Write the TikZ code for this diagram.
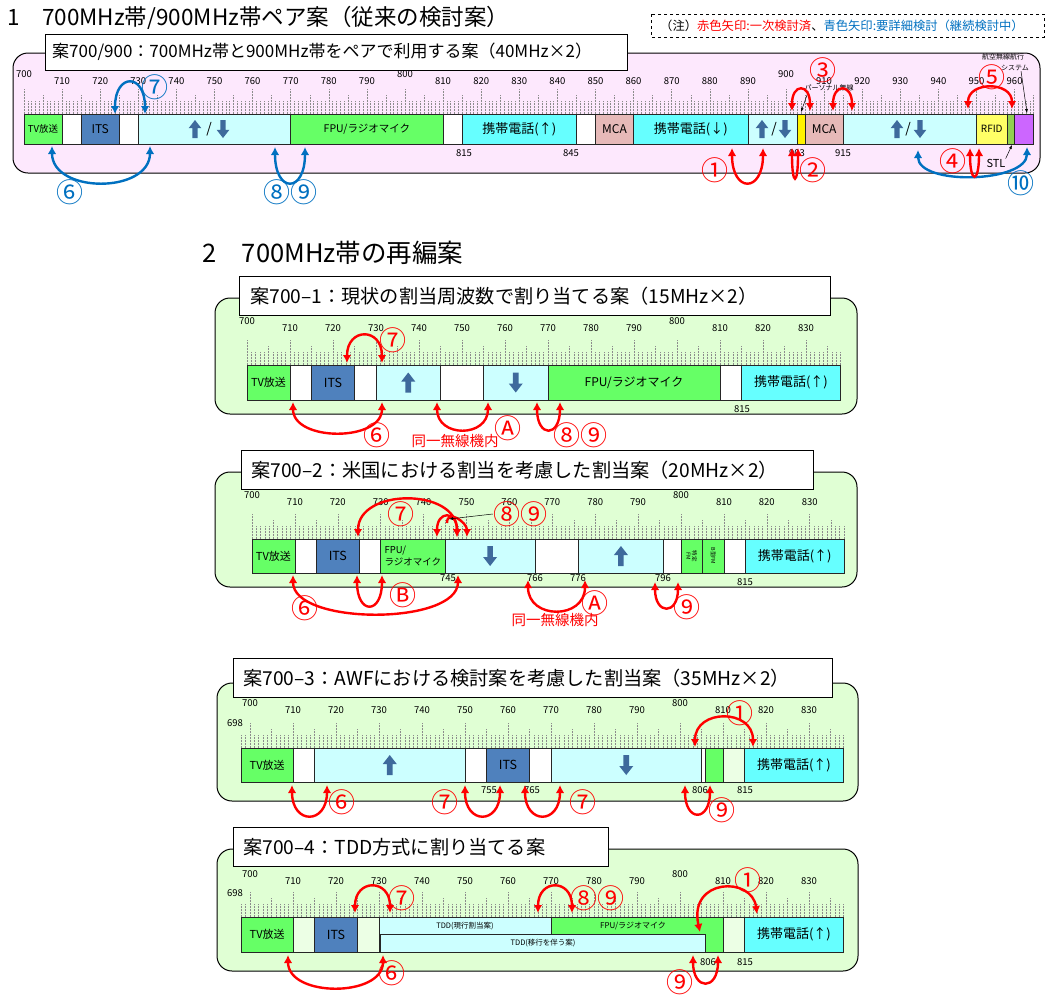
\documentclass[tikz,border=0pt]{standalone}
\usepackage{fontspec}
\setmainfont{Noto Sans CJK JP}
\usetikzlibrary{arrows.meta}

\definecolor{tvgreen}{RGB}{102,255,102}
\definecolor{itsblue}{RGB}{79,129,189}
\definecolor{pale}{RGB}{204,255,255}
\definecolor{mobile}{RGB}{102,255,255}
\definecolor{mca}{RGB}{230,185,184}
\definecolor{rfid}{RGB}{255,255,102}
\definecolor{stl}{RGB}{146,208,80}
\definecolor{aero}{RGB}{204,102,255}
\definecolor{pinkbg}{RGB}{253,232,253}
\definecolor{greenbg}{RGB}{224,255,212}
\definecolor{arrblue}{RGB}{62,106,156}
\definecolor{redarr}{RGB}{255,0,0}
\definecolor{bluearr}{RGB}{0,112,192}

\tikzset{
  band/.style={draw=black!85, line width=0.7pt, inner sep=0pt, font=\fontsize{11}{12}\selectfont},
  tick/.style={black!45, densely dotted, line width=0.5pt},
  axlbl/.style={font=\fontsize{9.5}{10}\selectfont, inner sep=0pt},
  hop/.style={line width=2.4pt, >={Latex[length=8pt,width=8.5pt]}, <->},
  num/.style={font=\fontsize{27}{27}\selectfont, inner sep=0pt},
  panel/.style={draw=black, line width=1pt, rounded corners=15pt},
  titlebox/.style={draw=black, line width=1pt, fill=white},
  titletxt/.style={anchor=west, inner sep=0pt, font=\fontsize{19.2}{19}\selectfont},
  head/.style={anchor=west, inner sep=0pt},
  pointer/.style={line width=0.5pt, -{Latex[length=4pt,width=3pt]}},
  tiny/.style={font=\fontsize{7}{7}\selectfont, inner sep=0pt},
  upblk/.pic={\fill[arrblue] (-2.8,10) -- (-2.8,-1) -- (-7,-1) -- (0,-10) -- (7,-1) -- (2.8,-1) -- (2.8,10) -- cycle;},
  dnblk/.pic={\fill[arrblue] (-2.8,-10) -- (-2.8,1) -- (-7,1) -- (0,10) -- (7,1) -- (2.8,1) -- (2.8,-10) -- cycle;}
}

\newcommand\setbar[4]{\def\ax{#1}\def\sx{#2}\def\yt{#3}\def\yb{#4}}
\newcommand\fq[1]{\ax+\sx*(#1-700)}

\newcommand\mkband[6][]{%
  \pgfmathsetmacro\bxa{\fq{#3}}%
  \pgfmathsetmacro\bxb{\fq{#4}}%
  \pgfmathsetmacro\bw{\bxb-\bxa}%
  \pgfmathsetmacro\bh{\yb-\yt}%
  \node[band,fill=#5,minimum width=\bw pt,minimum height=\bh pt,#1] (#2)
    at ({(\bxa+\bxb)/2},{(\yt+\yb)/2}) {#6};}

\newcommand\mkticks[2]{%
  \foreach \f in {#1,...,#2}{%
    \pgfmathsetmacro\tx{\fq{\f}}%
    \pgfmathtruncatemacro\tm{mod(\f,10)}%
    \pgfmathtruncatemacro\tf{mod(\f,5)}%
    \ifnum\tm=0 \def\th{25}\else\ifnum\tf=0 \def\th{19}\else\def\th{13}\fi\fi
    \draw[tick] (\tx,{\yt-\th}) -- (\tx,\yt);}}

\newcommand\mkaxis[3]{%
  \foreach \f in {#2}{%
    \pgfmathsetmacro\tx{\fq{\f}}%
    \pgfmathtruncatemacro\tc{mod(\f,100)}%
    \pgfmathsetmacro\ty{#3-(\tc==0)*7}%
    \node[axlbl] (#1\f) at (\tx,\ty) {\f};}}

\newcommand\mkhop[7][]{%
  \coordinate (#2a) at (#3,#4);
  \coordinate (#2b) at (#5,#6);
  \draw[hop,#1] (#2a) .. controls +(0,{1.33*(#7)}) and +(0,{1.33*(#7)}) .. (#2b);}

\begin{document}
\begin{tikzpicture}[x=1pt,y=-1pt]
\useasboundingbox (0,0) rectangle (1046,994);

% 1: 700/900 pair
\node[head, font=\fontsize{22.5}{23}\selectfont] (h1) at (7,18) {1　700MHz帯/900MHz帯ペア案（従来の検討案）};
\draw[dashed, line width=0.8pt] (651,14) rectangle (1044,37);
\node[font=\fontsize{12.3}{12}\selectfont, inner sep=0pt] (note) at (842,25.5)
  {（注）\textcolor{redarr}{赤色矢印:一次検討済}、\textcolor{bluearr}{青色矢印:要詳細検討（継続検討中）}};

\draw[panel, fill=pinkbg] (13,53) rectangle (1040,173);
\draw[titlebox] (45,34) rectangle (627,70);
\node[titletxt, font=\fontsize{17}{17}\selectfont] (t1) at (52,52) {案700/900：700MHz帯と900MHz帯をペアで利用する案（40MHz×2）};

\setbar{24}{3.81}{114}{144}
\mkticks{700}{965}
\mkaxis{a1-}{700,710,...,960}{81}
\mkband[font=\fontsize{9.5}{10}\selectfont]{tv1}{700}{710}{tvgreen}{TV放送}
\mkband{w1a}{710}{715}{white}{}
\mkband[font=\fontsize{12}{12}\selectfont]{its1}{715}{725}{itsblue}{ITS}
\mkband{w1b}{725}{730}{white}{}
\mkband{ud1a}{730}{770}{pale}{}
\mkband[font=\fontsize{10.5}{11}\selectfont]{fpu1}{770}{810}{tvgreen}{FPU/ラジオマイク}
\mkband{w1c}{810}{815}{white}{}
\mkband[font=\fontsize{13}{13}\selectfont]{mu1}{815}{845}{mobile}{携帯電話(↑)}
\mkband{w1d}{845}{850}{white}{}
\mkband[font=\fontsize{12}{12}\selectfont]{mca1a}{850}{860}{mca}{MCA}
\mkband[font=\fontsize{13}{13}\selectfont]{md1}{860}{890}{mobile}{携帯電話(↓)}
\mkband{ud1b}{890}{903}{pale}{}
\mkband{pr1}{903}{905}{yellow}{}
\mkband[font=\fontsize{12}{12}\selectfont]{mca1b}{905}{915}{mca}{MCA}
\mkband{ud1c}{915}{950}{pale}{}
\mkband[font=\fontsize{10}{10}\selectfont]{rfid1}{950}{958}{rfid}{RFID}
\mkband{stl1}{958}{960}{stl}{}
\mkband{aero1}{960}{965}{aero}{}
\pic[scale=0.9] (u1a) at (195,129) {upblk};
\node[font=\fontsize{14}{14}\selectfont, inner sep=0pt] (s1a) at (209,129) {/};
\pic[scale=0.9] (d1a) at (223,129) {dnblk};
\pic[scale=0.9] (u1b) at (762,129) {upblk};
\node[font=\fontsize{14}{14}\selectfont, inner sep=0pt] (s1b) at (774,129) {/};
\pic[scale=0.9] (d1b) at (785,129) {dnblk};
\pic[scale=0.9] (u1c) at (897,129) {upblk};
\node[font=\fontsize{14}{14}\selectfont, inner sep=0pt] (s1c) at (908,129) {/};
\pic[scale=0.9] (d1c) at (920,129) {dnblk};
\node[axlbl] (l1a) at (464,153) {815};
\node[axlbl] (l1b) at (571,153) {845};
\node[axlbl] (l1c) at (797,153) {903};
\node[axlbl] (l1d) at (843,153) {915};

\node[tiny] (pers) at (829,88) {パーソナル無線};
\coordinate (prt) at (801,112);
\draw[pointer] ([xshift=4pt]pers.south west) -- (prt);
\node[tiny] (aer1) at (1003,57) {航空無線航行};
\node[tiny] (aer2) at (1015,68) {システム};
\coordinate (aert) at (1027,113);
\draw[pointer] ([xshift=6pt]aer2.south) -- (aert);
\node[font=\fontsize{11}{11}\selectfont, inner sep=0pt] (stl) at (996,163) {STL};
\coordinate (stlt) at (1012,145);
\draw[pointer] (stl.north east) -- (stlt);

\mkhop[bluearr]{b7}{115}{114}{145}{114}{-31}
\mkhop[bluearr]{b6}{52}{146}{150}{146}{36}
\mkhop[bluearr]{b89}{275}{147}{305}{147}{35}
\mkhop[bluearr]{b10}{918}{150}{1027}{147}{27}
\mkhop[redarr]{r1}{732}{148}{763}{148}{34}
\mkhop[redarr]{r2}{792}{148}{798}{148}{29}
\mkhop[redarr]{r3a}{792}{111}{810}{111}{-21}
\mkhop[redarr]{r3b}{833}{111}{852}{111}{-21}
\mkhop[redarr]{r5}{968}{109}{1012}{109}{-21}
\mkhop[redarr]{r4}{970}{148}{979}{148}{27}
\node[num, bluearr] (n7b) at (155,87) {⑦};
\node[num, bluearr] (n6b) at (70,192) {⑥};
\node[num, bluearr] (n89b) at (290,192) {⑧⑨};
\node[num, bluearr] (n10b) at (1021,183) {⑩};
\node[num, redarr] (n1) at (715,170) {①};
\node[num, redarr] (n2) at (813,170) {②};
\node[num, redarr] (n3) at (823,70) {③};
\node[num, redarr] (n5) at (992,77) {⑤};
\node[num, redarr] (n4) at (953,161) {④};

% 2: 700 re-plan
\node[head, font=\fontsize{25.5}{26}\selectfont] (h2) at (202,253) {2　700MHz帯の再編案};

% 700-1
\draw[panel, fill=greenbg] (215,298) rectangle (857,414);
\draw[titlebox] (239,276) rectangle (830,315);
\node[titletxt] (t21) at (250,296) {案700–1：現状の割当周波数で割り当てる案（15MHz×2）};
\setbar{247}{4.3}{365}{400}
\mkticks{700}{838}
\mkaxis{a21-}{700,710,...,830}{328}
\mkband[font=\fontsize{11}{11}\selectfont]{tv21}{700}{710}{tvgreen}{TV放送}
\mkband{w21a}{710}{715}{white}{}
\mkband[font=\fontsize{12.5}{13}\selectfont]{its21}{715}{725}{itsblue}{ITS}
\mkband{w21b}{725}{730}{white}{}
\mkband{up21}{730}{745}{pale}{}
\mkband{w21c}{745}{755}{white}{}
\mkband{dn21}{755}{770}{pale}{}
\mkband[font=\fontsize{12}{12}\selectfont]{fpu21}{770}{810}{tvgreen}{FPU/ラジオマイク}
\mkband{w21d}{810}{815}{white}{}
\mkband[font=\fontsize{13}{13}\selectfont]{mu21}{815}{838}{mobile}{携帯電話(↑)}
\pic (u21) at (up21) {upblk};
\pic (d21) at (dn21) {dnblk};
\node[axlbl] (l21a) at (742,409) {815};
\mkhop[redarr]{r21s7}{347}{363}{382}{363}{-27}
\mkhop[redarr]{r21s6}{293}{402}{382}{402}{30}
\mkhop[redarr]{r21sA}{437}{402}{488}{402}{27}
\mkhop[redarr]{r21s89}{537}{402}{560}{402}{27}
\node[num, redarr] (n21s7) at (393,340) {⑦};
\node[num, redarr] (n21s6) at (377,435) {⑥};
\node[num, redarr] (n21sA) at (508,428) {Ⓐ};
\node[num, redarr] (n21s89) at (580,435) {⑧⑨};
\node[font=\fontsize{14.5}{15}\selectfont, inner sep=0pt, redarr] (same21) at (455,441) {同一無線機内};

% 700-2
\draw[panel, fill=greenbg] (215,472) rectangle (857,587);
\draw[titlebox] (241,450) rectangle (813,489);
\node[titletxt] (t22) at (251,470) {案700–2：米国における割当を考慮した割当案（20MHz×2）};
\setbar{252}{4.29}{539}{573}
\mkticks{700}{838}
\mkaxis{a22-}{700,710,...,830}{502}
\mkband[font=\fontsize{11}{11}\selectfont]{tv22}{700}{710}{tvgreen}{TV放送}
\mkband{w22a}{710}{715}{white}{}
\mkband[font=\fontsize{12.5}{13}\selectfont]{its22}{715}{725}{itsblue}{ITS}
\mkband{w22b}{725}{730}{white}{}
\mkband[font=\fontsize{9.5}{12}\selectfont, align=left]{fpu22}{730}{745}{tvgreen}{FPU/\\ラジオマイク}
\mkband{dn22}{745}{766}{pale}{}
\mkband{w22c}{766}{776}{white}{}
\mkband{up22}{776}{796}{pale}{}
\mkband{w22d}{796}{800}{white}{}
\mkband{fm22a}{800}{805}{tvgreen}{}
\mkband{fm22b}{805}{810}{tvgreen}{}
\mkband{w22e}{810}{815}{white}{}
\mkband[font=\fontsize{13}{13}\selectfont]{mu22}{815}{838}{mobile}{携帯電話(↑)}
\pic (d22) at (dn22) {dnblk};
\pic (u22) at (up22) {upblk};
\node[font=\fontsize{5.5}{6}\selectfont, inner sep=0pt, align=center, rotate=-90] (fm22at) at (fm22a) {特定\\FM};
\node[font=\fontsize{5.5}{6}\selectfont, inner sep=0pt, rotate=-90] (fm22bt) at (fm22b) {B型FM};
\node[axlbl] (l22a) at (448,578) {745};
\node[axlbl] (l22b) at (535,578) {766};
\node[axlbl] (l22c) at (578,578) {776};
\node[axlbl] (l22d) at (663,578) {796};
\node[axlbl] (l22e) at (745,582) {815};
\mkhop[redarr]{r22s6}{293}{575}{458}{575}{38}
\mkhop[redarr]{r22sB}{357}{575}{382}{575}{30}
\mkhop[redarr]{r22s7}{358}{537}{457}{537}{-37}
\mkhop[redarr]{r22s89a}{437}{537}{457}{537}{-20}
\mkhop[redarr,->]{r22s89b}{447}{523}{467}{537}{-11}
\mkhop[redarr]{r22sA}{528}{580}{585}{580}{30}
\mkhop[redarr]{r22s9}{655}{582}{678}{582}{25}
\node[num, redarr] (n22s6) at (305,608) {⑥};
\node[num, redarr] (n22sB) at (403,595) {Ⓑ};
\node[num, redarr] (n22s7) at (401,514) {⑦};
\node[num, redarr] (n22s89) at (520,514) {⑧⑨};
\coordinate (p22s89) at (449,519);
\draw[pointer] (n22s89.west) -- (p22s89);
\node[num, redarr] (n22sA) at (595,603) {Ⓐ};
\node[font=\fontsize{14.5}{15}\selectfont, inner sep=0pt, redarr] (same22) at (555,620) {同一無線機内};
\node[num, redarr] (n22s9) at (687,607) {⑨};

% 700-3
\draw[panel, fill=greenbg] (217,683) rectangle (858,801);
\draw[titlebox] (233,658) rectangle (832,697);
\node[titletxt] (t23) at (243,678) {案700–3：AWFにおける検討案を考慮した割当案（35MHz×2）};
\setbar{250}{4.3}{748}{782}
\mkticks{698}{838}
\mkaxis{a23-}{700,710,...,830}{710}
\node[axlbl] (a23-698) at (235,723) {698};
\mkband[font=\fontsize{11}{11}\selectfont]{tv23}{698}{710}{tvgreen}{TV放送}
\mkband{w23a}{710}{715}{white}{}
\mkband{up23}{715}{750}{pale}{}
\mkband{w23b}{750}{755}{white}{}
\mkband[font=\fontsize{12.5}{13}\selectfont]{its23}{755}{765}{itsblue}{ITS}
\mkband{w23c}{765}{770}{white}{}
\mkband{dn23}{770}{805}{pale}{}
\mkband{w23d}{805}{806}{white}{}
\mkband{g23}{806}{810}{tvgreen}{}
\mkband{p23}{810}{815}{greenbg!60!white}{}
\mkband[font=\fontsize{13}{13}\selectfont]{mu23}{815}{838}{mobile}{携帯電話(↑)}
\pic (u23) at (up23) {upblk};
\pic (d23) at (dn23) {dnblk};
\node[axlbl] (l23a) at (489,790) {755};
\node[axlbl] (l23b) at (532,790) {765};
\node[axlbl] (l23c) at (700,790) {806};
\node[axlbl] (l23d) at (745,790) {815};
\mkhop[redarr]{r23s6}{292}{785}{327}{785}{30}
\mkhop[redarr]{r23s7a}{465}{785}{500}{785}{30}
\mkhop[redarr]{r23s7b}{525}{785}{560}{785}{30}
\mkhop[redarr]{r23s9}{685}{785}{710}{785}{28}
\mkhop[redarr]{r23s1}{695}{747}{753}{747}{-29}
\node[num, redarr] (n23s6) at (342,802) {⑥};
\node[num, redarr] (n23s7a) at (445,802) {⑦};
\node[num, redarr] (n23s7b) at (583,802) {⑦};
\node[num, redarr] (n23s9) at (722,810) {⑨};
\node[num, redarr] (n23s1) at (740,713) {①};

% 700-4
\draw[panel, fill=greenbg] (217,849) rectangle (858,971);
\draw[titlebox] (233,827) rectangle (608,866);
\node[titletxt] (t24) at (243,847) {案700–4：TDD方式に割り当てる案};
\setbar{250}{4.3}{917}{952}
\mkticks{698}{838}
\mkaxis{a24-}{700,710,...,830}{881}
\node[axlbl] (a24-698) at (235,893) {698};
\mkband[font=\fontsize{11}{11}\selectfont]{tv24}{698}{710}{tvgreen}{TV放送}
\mkband{p24a}{710}{715}{greenbg!60!white}{}
\mkband[font=\fontsize{12.5}{13}\selectfont]{its24}{715}{725}{itsblue}{ITS}
\mkband{p24b}{725}{730}{greenbg!60!white}{}
\mkband{fpu24}{770}{810}{tvgreen}{}
\mkband{p24c}{810}{815}{greenbg!60!white}{}
\mkband[font=\fontsize{13}{13}\selectfont]{mu24}{815}{838}{mobile}{携帯電話(↑)}
\setbar{250}{4.3}{917}{934.5}
\mkband[font=\fontsize{7.5}{8}\selectfont]{tdd24a}{730}{770}{pale}{TDD(現行割当案)}
\setbar{250}{4.3}{934.5}{952}
\mkband[font=\fontsize{7.5}{8}\selectfont]{tdd24b}{730.3}{806}{pale}{TDD(移行を伴う案)}
\node[font=\fontsize{8}{8}\selectfont, inner sep=0pt] (fpu24t) at (633,926) {FPU/ラジオマイク};
\node[axlbl] (l24a) at (708,962) {806};
\node[axlbl] (l24b) at (745,962) {815};
\mkhop[redarr]{r24s7}{355}{913}{390}{913}{-26}
\mkhop[redarr]{r24s89}{538}{913}{572}{913}{-26}
\coordinate (r24s1a) at (700,932);
\coordinate (r24s1b) at (757,914);
\draw[hop, redarr] (r24s1a) .. controls (688,878) and (752,876) .. (r24s1b);
\mkhop[redarr]{r24s6}{288}{955}{383}{955}{32}
\mkhop[redarr]{r24s9}{693}{955}{718}{955}{27}
\node[num, redarr] (n24s7) at (402,898) {⑦};
\node[num, redarr] (n24s89) at (597,898) {⑧⑨};
\node[num, redarr] (n24s1) at (748,880) {①};
\node[num, redarr] (n24s6) at (392,973) {⑥};
\node[num, redarr] (n24s9) at (680,982) {⑨};
\end{tikzpicture}
\end{document}
